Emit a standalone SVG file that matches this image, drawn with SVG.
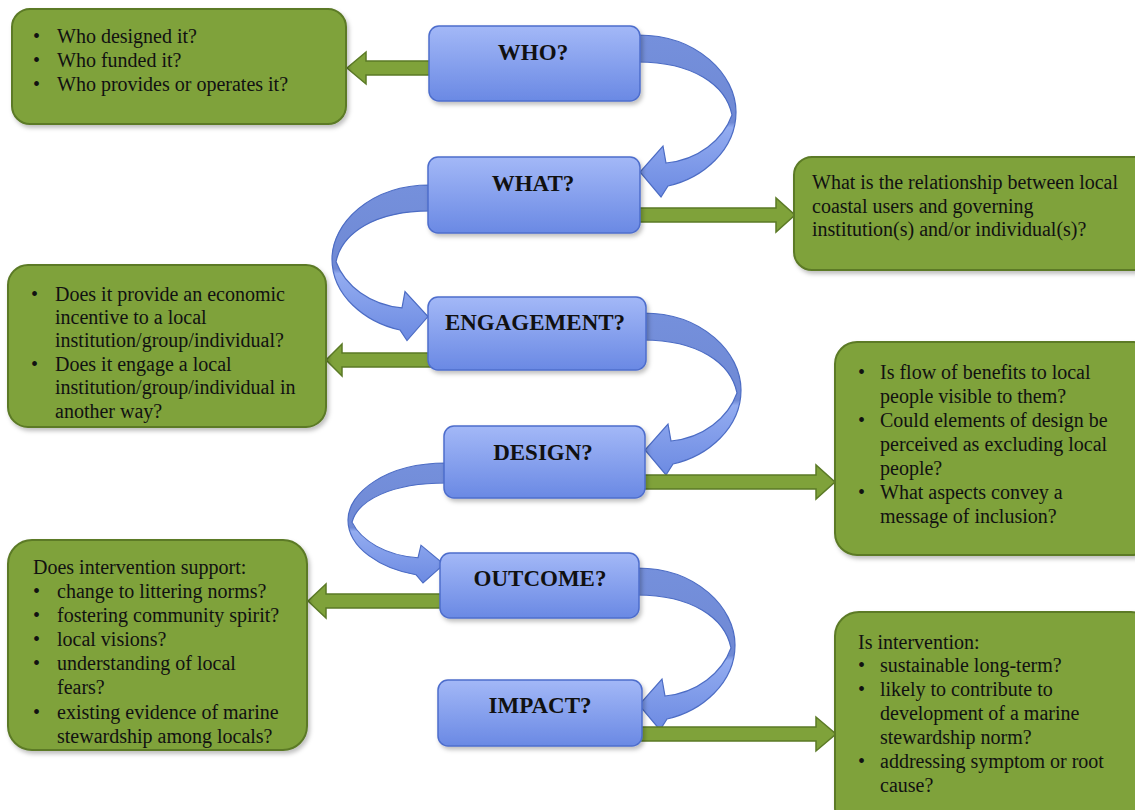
<svg xmlns="http://www.w3.org/2000/svg" width="1135" height="810" viewBox="0 0 1135 810">
<defs>
<linearGradient id="blueG" x1="0" y1="0" x2="0" y2="1">
<stop offset="0" stop-color="#a3b8f7"/>
<stop offset="1" stop-color="#6a89e4"/>
</linearGradient>
<linearGradient id="arcG" x1="0" y1="0" x2="0" y2="1">
<stop offset="0" stop-color="#7590dc"/>
<stop offset="0.54" stop-color="#6f89d4"/>
<stop offset="0.57" stop-color="#93acf0"/>
<stop offset="1" stop-color="#6c8ae2"/>
</linearGradient>
<filter id="sh" x="-10%" y="-10%" width="130%" height="130%">
<feDropShadow dx="2" dy="3" stdDeviation="2" flood-color="#000" flood-opacity="0.25"/>
</filter>
<path id="curl" d="M0 0 C60 0 98 40 98 77 C98 115 65 143 30 151 L23 162 L2 137 L25 111 L28 128 C60 125 85 105 94 80 C88 50 55 27 0 27 Z"/>
</defs>
<style>
.gbox{fill:#7fa23a;stroke:#5b7a26;stroke-width:2}
.bbox{fill:url(#blueG);stroke:#4d6dcc;stroke-width:1.5}
.garr{fill:#7fa23a;stroke:#5b7a26;stroke-width:1.5}
.curl{fill:url(#arcG);stroke:#4c6cc4;stroke-width:1.2}
.t{font-family:"Liberation Serif","Times New Roman",serif;font-size:20px;fill:#111}
.h{font-family:"Liberation Serif","Times New Roman",serif;font-size:23px;font-weight:bold;fill:#111;text-anchor:middle}
</style>
<rect width="1135" height="810" fill="#ffffff"/>

<g id="connectors">
<use href="#curl" class="curl" transform="translate(638,35)"/>
<use href="#curl" class="curl" transform="translate(430,185) scale(-1,0.96)"/>
<use href="#curl" class="curl" transform="translate(643,313)"/>
<use href="#curl" class="curl" transform="translate(446,463) scale(-1,0.74)"/>
<use href="#curl" class="curl" transform="translate(637,568)"/>
<polygon class="garr" points="432,61 366,61 366,52 347,68 366,84 366,75 432,75"/>
<polygon class="garr" points="636,208 776,208 776,198 795,215 776,232 776,222 636,222"/>
<polygon class="garr" points="432,353 342,353 342,344 326,360 342,376 342,367 432,367"/>
<polygon class="garr" points="641,475 816,475 816,465 835,482 816,499 816,489 641,489"/>
<polygon class="garr" points="444,594 326,594 326,584 308,601 326,618 326,608 444,608"/>
<polygon class="garr" points="640,727 816,727 816,717 836,734 816,751 816,741 640,741"/>
</g>

<g id="who"><rect class="bbox" filter="url(#sh)" x="429" y="26" width="211" height="75" rx="10"/><text class="h" x="533" y="60">WHO?</text></g>
<g id="what"><rect class="bbox" filter="url(#sh)" x="428" y="157" width="212" height="76" rx="10"/><text class="h" x="533" y="191">WHAT?</text></g>
<g id="engagement"><rect class="bbox" filter="url(#sh)" x="428" y="297" width="218" height="73" rx="10"/><text class="h" x="535" y="330">ENGAGEMENT?</text></g>
<g id="design"><rect class="bbox" filter="url(#sh)" x="444" y="426" width="201" height="72" rx="10"/><text class="h" x="543" y="460">DESIGN?</text></g>
<g id="outcome"><rect class="bbox" filter="url(#sh)" x="440" y="553" width="199" height="65" rx="10"/><text class="h" x="540" y="586">OUTCOME?</text></g>
<g id="impact"><rect class="bbox" filter="url(#sh)" x="438" y="680" width="204" height="66" rx="10"/><text class="h" x="540" y="713">IMPACT?</text></g>

<g id="who-q"><rect class="gbox" filter="url(#sh)" x="12" y="9" width="334" height="115" rx="18"/>
<text class="t"><tspan x="33" y="43">•</tspan><tspan x="57" y="43">Who designed it?</tspan><tspan x="33" y="67">•</tspan><tspan x="57" y="67">Who funded it?</tspan><tspan x="33" y="91">•</tspan><tspan x="57" y="91">Who provides or operates it?</tspan></text></g>

<g id="what-q"><rect class="gbox" filter="url(#sh)" x="794" y="157" width="360" height="113" rx="18"/>
<text class="t"><tspan x="812" y="189">What is the relationship between local</tspan><tspan x="812" y="213">coastal users and governing</tspan><tspan x="812" y="236">institution(s) and/or individual(s)?</tspan></text></g>

<g id="engagement-q"><rect class="gbox" filter="url(#sh)" x="8" y="265" width="318" height="162" rx="20"/>
<text class="t"><tspan x="31" y="301">•</tspan><tspan x="55" y="301">Does it provide an economic</tspan><tspan x="55" y="324">incentive to a local</tspan><tspan x="55" y="347">institution/group/individual?</tspan><tspan x="31" y="371">•</tspan><tspan x="55" y="371">Does it engage a local</tspan><tspan x="55" y="394">institution/group/individual in</tspan><tspan x="55" y="418">another way?</tspan></text></g>

<g id="design-q"><rect class="gbox" filter="url(#sh)" x="835" y="342" width="320" height="213" rx="22"/>
<text class="t"><tspan x="858" y="379">•</tspan><tspan x="880" y="379">Is flow of benefits to local</tspan><tspan x="880" y="403">people visible to them?</tspan><tspan x="858" y="427">•</tspan><tspan x="880" y="427">Could elements of design be</tspan><tspan x="880" y="451">perceived as excluding local</tspan><tspan x="880" y="475">people?</tspan><tspan x="858" y="499">•</tspan><tspan x="880" y="499">What aspects convey a</tspan><tspan x="880" y="523">message of inclusion?</tspan></text></g>

<g id="outcome-q"><rect class="gbox" filter="url(#sh)" x="8" y="540" width="299" height="210" rx="24"/>
<text class="t"><tspan x="33" y="574">Does intervention support:</tspan><tspan x="33" y="598">•</tspan><tspan x="57" y="598">change to littering norms?</tspan><tspan x="33" y="622">•</tspan><tspan x="57" y="622">fostering community spirit?</tspan><tspan x="33" y="646">•</tspan><tspan x="57" y="646">local visions?</tspan><tspan x="33" y="670">•</tspan><tspan x="57" y="670">understanding of local</tspan><tspan x="57" y="694">fears?</tspan><tspan x="33" y="719">•</tspan><tspan x="57" y="719">existing evidence of marine</tspan><tspan x="57" y="743">stewardship among locals?</tspan></text></g>

<g id="impact-q"><rect class="gbox" filter="url(#sh)" x="835" y="612" width="320" height="220" rx="24"/>
<text class="t"><tspan x="858" y="649">Is intervention:</tspan><tspan x="858" y="672">•</tspan><tspan x="880" y="672">sustainable long-term?</tspan><tspan x="858" y="696">•</tspan><tspan x="880" y="696">likely to contribute to</tspan><tspan x="880" y="720">development of a marine</tspan><tspan x="880" y="744">stewardship norm?</tspan><tspan x="858" y="768">•</tspan><tspan x="880" y="768">addressing symptom or root</tspan><tspan x="880" y="792">cause?</tspan></text></g>
</svg>
